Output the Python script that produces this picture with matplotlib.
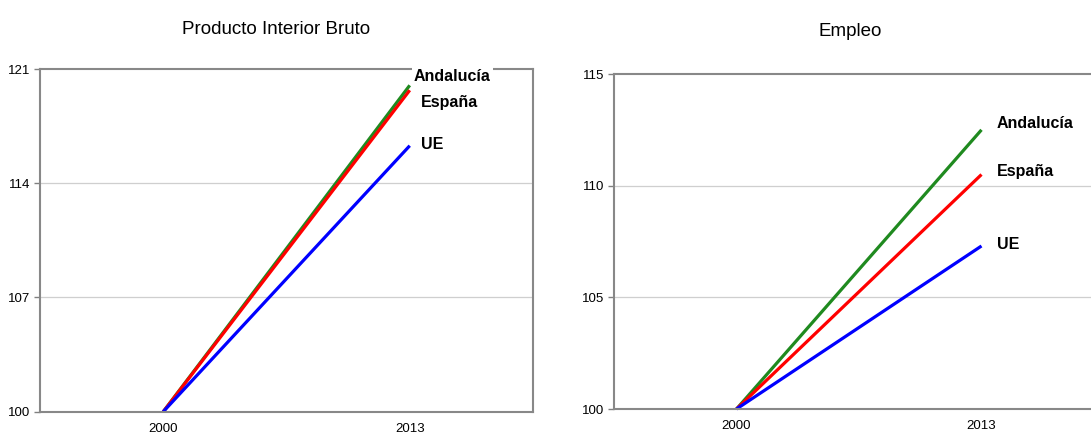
import matplotlib
matplotlib.use("Agg")
import matplotlib.pyplot as plt

plt.rcParams['font.family'] = ['Liberation Sans', 'DejaVu Sans']

years = ["2000", "2013"]
series = ["Andalucía", "España", "UE"]
colors = ["#1f8a1f", "#ff0000", "#0000ff"]

pib_andalucia = [100, 120.0]
pib_espana = [100, 119.7]
pib_ue = [100, 116.3]

emp_andalucia = [100, 112.5]
emp_espana = [100, 110.5]
emp_ue = [100, 107.3]

pib_ticks = [100, 107, 114, 121]
emp_ticks = [100, 105, 110, 115]

W, H = 1091, 434
fig = plt.figure(figsize=(W / 100, H / 100), dpi=100)
ax1 = fig.add_axes([40 / W, 1 - 411.7 / H, 493 / W, 342.7 / H])
ax2 = fig.add_axes([614 / W, 1 - 409 / H, 490 / W, 335 / H])

def style(ax, ticks):
    ax.set_xlim(-0.5, 1.5)
    ax.set_ylim(ticks[0], ticks[-1])
    ax.set_yticks(ticks)
    ax.set_xticks(range(len(years)))
    ax.set_xticklabels(years)
    ax.tick_params(axis='x', length=0, labelsize=9.5, pad=8)
    ax.tick_params(axis='y', length=4, width=1, color='#808080', labelsize=9.5, pad=3)
    for s in ax.spines.values():
        s.set_color('#888888')
        s.set_linewidth(1.5)
    for t in ticks[1:-1]:
        ax.axhline(t, color='#cfcfcf', lw=0.9, zorder=0)

def draw(ax, vals, offsets):
    x = range(len(years))
    for name, v, c, off in zip(series, vals, colors, offsets):
        ax.plot(x, v, color=c, lw=2.3, solid_capstyle='butt', clip_on=False)
        ax.annotate(name, xy=(1, v[-1]), xytext=off, textcoords='offset pixels',
                    ha='left', va='center', fontsize=11.5, fontweight='bold',
                    bbox=dict(facecolor='white', edgecolor='none', pad=1.5),
                    annotation_clip=False, zorder=5)

style(ax1, pib_ticks)
draw(ax1, [pib_andalucia, pib_espana, pib_ue], [(4, 9), (11, -12.5), (11, 1)])

style(ax2, emp_ticks)
ax2.spines['right'].set_visible(False)
draw(ax2, [emp_andalucia, emp_espana, emp_ue], [(15, 6), (15, 3.5), (15, 1.5)])

fig.text(276 / W, 1 - 29 / H, "Producto Interior Bruto", ha='center', va='center', fontsize=13.5)
fig.text(850 / W, 1 - 32 / H, "Empleo", ha='center', va='center', fontsize=13.5)

fig.savefig("out.png", dpi=100)
